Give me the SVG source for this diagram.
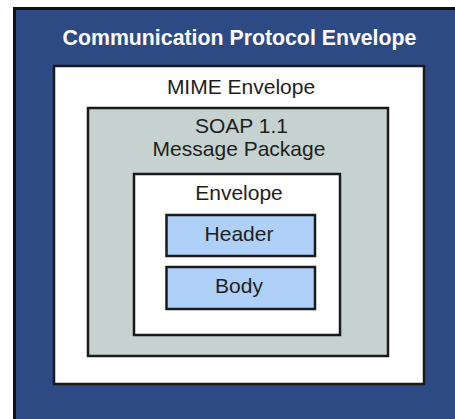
<svg xmlns="http://www.w3.org/2000/svg" width="455" height="419" viewBox="0 0 455 419">
<style>
.box{stroke:#1a1a1a;stroke-width:2.5}
.t{font-family:"Liberation Sans",Arial,sans-serif;font-size:21px;fill:#1e1e1e;text-anchor:middle}
.w{fill:#ffffff;font-weight:bold;font-size:21.3px}
</style>
<rect x="0" y="0" width="455" height="419" fill="#ffffff"/>
<g id="comm">
<rect x="14.5" y="8.5" width="445" height="412" fill="#2e4a84" stroke="#111" stroke-width="3"/>
<text class="t w" x="239.5" y="45">Communication Protocol Envelope</text>
</g>
<g id="mime">
<rect class="box" x="54" y="66" width="370" height="318" fill="#ffffff"/>
<text class="t" x="241" y="94">MIME Envelope</text>
</g>
<g id="soap">
<rect class="box" x="88" y="108" width="300" height="248" fill="#c6d2cf"/>
<text class="t" x="241.5" y="133">SOAP 1.1</text>
<text class="t" x="239" y="156">Message Package</text>
</g>
<g id="envelope">
<rect class="box" x="134" y="174" width="206" height="161" fill="#ffffff"/>
<text class="t" x="239" y="200">Envelope</text>
</g>
<g id="header">
<rect class="box" x="166.5" y="215" width="148.5" height="41" fill="#afd0f8"/>
<text class="t" x="239" y="241">Header</text>
</g>
<g id="body">
<rect class="box" x="166.5" y="267" width="148.5" height="42" fill="#afd0f8"/>
<text class="t" x="239" y="293">Body</text>
</g>
<g id="connectors"/>
</svg>
